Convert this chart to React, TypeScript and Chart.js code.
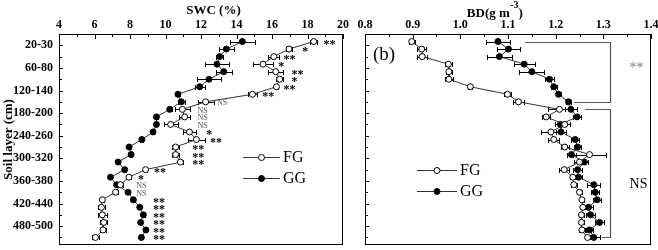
import React, { useEffect, useRef } from "react";
import { Chart, registerables } from "chart.js";

Chart.register(...registerables);

const FONT = '"Liberation Serif", "Times New Roman", serif';

// ---- categories: 27 soil layers (cm), top to bottom ----
const layers = [
  "0-10", "10-20", "20-30", "30-40", "40-60", "60-80", "80-100", "100-120", "120-140",
  "140-160", "160-180", "180-200", "200-220", "220-240", "240-260", "260-280", "280-300",
  "300-320", "320-340", "340-360", "360-380", "380-400", "400-420", "420-440", "440-460",
  "460-480", "480-500",
];

// y-axis tick labels (every other tick is labelled)
const yTickLabels = ["20-30", "60-80", "120-140", "180-200", "240-260", "300-320", "360-380", "420-440", "480-500"];
const yTickValues = Array.from({ length: 18 }, (_, j) => 0.5 + 1.5 * j);

// ---- panel (a): soil water content (%) ----
const swcFG = [18.35, 16.96, 16.1, 15.49, 16.21, 16.43, 16.25, 14.9, 12.26, 10.95, 11.08, 10.29, 11.35, 11.74, 10.57, 10.57, 10.84, 8.88, 7.94, 7.46, 7.19, 6.44, 6.39, 6.44, 6.52, 6.48, 6.05];
const swcFGErr = [0.19, 0.19, 0.3, 0.55, 0.41, 0.19, 0.1, 0.25, 0.45, 0.42, 0.32, 0.4, 0.35, 0.47, 0.19, 0.19, 0.15, 0.1, 0.12, 0.15, 0.12, 0.1, 0.22, 0.25, 0.2, 0.15, 0.2];
const swcGG = [14.33, 13.43, 13.05, 12.9, 13.28, 12.45, 11.93, 10.7, 10.89, 10.24, 9.49, 9.49, 9.3, 8.67, 7.95, 8.06, 7.33, 7.7, 6.9, 7.25, 7.89, 8.19, 8.55, 8.75, 8.6, 8.9, 8.64];
const swcGGErr = [0.7, 0.41, 0.19, 0.66, 0.44, 0.68, 0.28, 0.1, 0.19, 0.1, 0.08, 0.08, 0.08, 0.08, 0.08, 0.08, 0.08, 0.08, 0.08, 0.08, 0.08, 0.08, 0.08, 0.08, 0.08, 0.08, 0.08];
// significance of FG vs GG per layer, and where (in SWC %) each label sits
const swcSig = ["**", "*", "**", "*", "**", "*", "**", "**", "NS", "NS", "NS", "NS", "*", "**", "**", "**", "**", "**", "*", "NS", "NS", "**", "**", "**", "**", "**", "**"];
const swcSigX = [18.9, 17.7, 16.65, 16.35, 17.1, 17.1, 16.65, 15.45, 12.9, 11.8, 11.8, 11.8, 12.3, 12.5, 11.5, 11.5, 11.5, 9.35, 8.45, 8.35, 8.35, 9.3, 9.3, 9.3, 9.3, 9.3, 9.3];

// ---- panel (b): bulk density ----
const bdFG = [0.898, 0.919, 0.92, 0.975, 0.976, 0.976, 1.021, 1.099, 1.122, 1.208, 1.18, 1.219, 1.19, 1.196, 1.219, 1.271, 1.25, 1.218, 1.236, 1.238, 1.25, 1.255, 1.257, 1.254, 1.254, 1.255, 1.267];
const bdFGErr = [0.006, 0.01, 0.01, 0.008, 0.006, 0.008, 0.004, 0.008, 0.012, 0.025, 0.008, 0.012, 0.02, 0.012, 0.008, 0.034, 0.012, 0.01, 0.006, 0.006, 0.005, 0.005, 0.005, 0.005, 0.005, 0.006, 0.006];
const bdGG = [1.079, 1.101, 1.082, 1.134, 1.15, 1.187, 1.196, 1.206, 1.227, 1.232, 1.245, 1.21, 1.211, 1.241, 1.246, 1.233, 1.26, 1.246, 1.248, 1.28, 1.283, 1.287, 1.269, 1.273, 1.292, 1.271, 1.28];
const bdGGErr = [0.026, 0.025, 0.026, 0.022, 0.026, 0.01, 0.006, 0.006, 0.005, 0.012, 0.008, 0.012, 0.01, 0.008, 0.008, 0.01, 0.008, 0.01, 0.008, 0.014, 0.008, 0.008, 0.01, 0.01, 0.01, 0.008, 0.012];
// significance brackets (layer ranges) and their extents in g cm-3
const bdGroups = [
  { from: 0, to: 8, text: "**", topStart: 1.136, bottomStart: 1.238, labelRow: 4 },
  { from: 9, to: 26, text: "NS", topStart: 1.262, bottomStart: 1.297, labelRow: 19.4 },
];
const bdBracketX = 1.315;
const bdBracketLabelX = 1.355;

const LINE = "#333";

function series(label: string, xs: number[], errs: number[], filled: boolean) {
  return {
    label,
    data: xs.map((x, i) => ({ x, y: i, layer: layers[i] })),
    errors: errs,
    showLine: true,
    borderColor: LINE,
    borderWidth: 1,
    pointRadius: 3,
    pointBorderWidth: 1,
    pointBorderColor: "#000",
    pointBackgroundColor: filled ? "#000" : "#fff",
  };
}

const framePlugin = {
  id: "frameTicks",
  beforeDatasetsDraw(chart: any) {
    const { ctx, chartArea: a } = chart;
    ctx.save();
    ctx.strokeStyle = "#000";
    ctx.lineWidth = 1;
    ctx.strokeRect(a.left + 0.5, a.top + 0.5, a.right - a.left - 1, a.bottom - a.top - 1);
    ctx.beginPath();
    const xs = chart.scales.x;
    xs.ticks.forEach((t: any) => {
      const px = Math.round(xs.getPixelForValue(t.value)) + 0.5;
      const major = t.label !== "" && t.label != null;
      ctx.moveTo(px, a.top);
      ctx.lineTo(px, a.top + (major ? 5 : 3));
    });
    const ys = chart.scales.y;
    ys.ticks.forEach((t: any, i: number) => {
      const py = Math.round(ys.getPixelForValue(t.value)) + 0.5;
      ctx.moveTo(a.left, py);
      ctx.lineTo(a.left + (i % 2 === 0 ? 4 : 3), py);
    });
    ctx.stroke();
    ctx.restore();
  },
};

const errorBarPlugin = {
  id: "errorBars",
  beforeDatasetsDraw(chart: any) {
    const { ctx } = chart;
    const xs = chart.scales.x;
    chart.data.datasets.forEach((ds: any, di: number) => {
      const meta = chart.getDatasetMeta(di);
      if (!ds.errors) return;
      ctx.save();
      ctx.strokeStyle = "#000";
      ctx.lineWidth = 1;
      ctx.beginPath();
      meta.data.forEach((pt: any, i: number) => {
        const v = ds.data[i].x;
        const e = ds.errors[i];
        const x0 = Math.round(xs.getPixelForValue(v - e)) + 0.5;
        const x1 = Math.round(xs.getPixelForValue(v + e)) + 0.5;
        const y = Math.round(pt.y) + 0.5;
        ctx.moveTo(x0, y);
        ctx.lineTo(x1, y);
        ctx.moveTo(x0, y - 2.5);
        ctx.lineTo(x0, y + 2.5);
        ctx.moveTo(x1, y - 2.5);
        ctx.lineTo(x1, y + 2.5);
      });
      ctx.stroke();
      ctx.restore();
    });
  },
};

function drawLegend(chart: any, x0: number, x1: number, y0: number, gap: number, size: number) {
  const { ctx } = chart;
  ctx.save();
  chart.data.datasets.forEach((ds: any, i: number) => {
    const y = y0 + i * gap;
    ctx.strokeStyle = ds.borderColor;
    ctx.lineWidth = 1;
    ctx.beginPath();
    ctx.moveTo(x0, Math.round(y) + 0.5);
    ctx.lineTo(x1, Math.round(y) + 0.5);
    ctx.stroke();
    ctx.beginPath();
    ctx.arc((x0 + x1) / 2, Math.round(y) + 0.5, ds.pointRadius, 0, Math.PI * 2);
    ctx.fillStyle = ds.pointBackgroundColor;
    ctx.fill();
    ctx.strokeStyle = ds.pointBorderColor;
    ctx.stroke();
    ctx.fillStyle = "#000";
    ctx.font = `${size}px ${FONT}`;
    ctx.textBaseline = "middle";
    ctx.textAlign = "left";
    ctx.fillText(ds.label, x1 + 3, y + 1);
  });
  ctx.restore();
}

function yScale(withLabels: boolean, width: number) {
  return {
    type: "linear",
    reverse: true,
    min: -1,
    max: 27,
    afterBuildTicks: (s: any) => {
      s.ticks = yTickValues.map((v) => ({ value: v }));
    },
    afterFit: (s: any) => {
      s.width = width;
      s.paddingTop = 0;
      s.paddingBottom = 0;
    },
    ticks: {
      display: withLabels,
      autoSkip: false,
      padding: 6,
      color: "#000",
      font: { family: FONT, size: 12, weight: "bold" },
      callback: (_v: any, i: number) => (i % 2 === 0 ? yTickLabels[i / 2] : ""),
    },
    grid: { display: false, drawTicks: false },
    border: { display: false },
    title: {
      display: withLabels,
      text: "Soil layer (cm)",
      color: "#000",
      padding: { top: 1, bottom: 0 },
      font: { family: FONT, size: 13, weight: "bold" },
    },
  };
}

function xScale(min: number, max: number, step: number, isMajor: (v: number) => boolean, fmt: (v: number) => string) {
  return {
    type: "linear",
    position: "top",
    min,
    max,
    afterFit: (s: any) => {
      s.height = 34;
      s.paddingLeft = 0;
      s.paddingRight = 0;
    },
    ticks: {
      stepSize: step,
      autoSkip: false,
      maxRotation: 0,
      padding: 2,
      color: "#000",
      font: { family: FONT, size: 12, weight: "bold" },
      callback: (v: any) => (isMajor(Number(v)) ? fmt(Number(v)) : ""),
    },
    grid: { display: false, drawTicks: false },
    border: { display: false },
  };
}

function leftConfig(): any {
  const annot = {
    id: "swcAnnot",
    afterDraw(chart: any) {
      const { ctx, chartArea: a } = chart;
      const xs = chart.scales.x;
      const ys = chart.scales.y;
      ctx.save();
      ctx.fillStyle = "#000";
      ctx.font = `bold 13px ${FONT}`;
      ctx.textAlign = "center";
      ctx.textBaseline = "alphabetic";
      ctx.fillText("SWC (%)", a.left + 0.544 * (a.right - a.left), 14);
      ctx.textAlign = "left";
      swcSig.forEach((s, i) => {
        const x = xs.getPixelForValue(swcSigX[i]);
        const y = ys.getPixelForValue(i);
        if (s === "NS") {
          ctx.font = `8px ${FONT}`;
          ctx.fillStyle = "#555";
          ctx.fillText(s, x, y + 3.5);
        } else {
          ctx.font = `bold 12px ${FONT}`;
          ctx.fillStyle = "#000";
          ctx.fillText(s, x, y + 6);
        }
      });
      ctx.restore();
      drawLegend(chart, 243, 280, 156.5, 21.5, 16);
    },
  };
  return {
    type: "scatter",
    data: {
      datasets: [series("FG", swcFG, swcFGErr, false), series("GG", swcGG, swcGGErr, true)],
    },
    options: {
      animation: false,
      responsive: false,
      maintainAspectRatio: false,
      layout: { padding: { left: 0, right: 11, top: 0, bottom: 4 } },
      plugins: { legend: { display: false }, tooltip: { enabled: false } },
      scales: {
        x: xScale(4, 20, 1, (v) => Math.round(v) % 2 === 0, (v) => String(Math.round(v))),
        y: yScale(true, 59),
      },
    },
    plugins: [framePlugin, errorBarPlugin, annot],
  };
}

function rightConfig(): any {
  const annot = {
    id: "bdAnnot",
    afterDraw(chart: any) {
      const { ctx, chartArea: a } = chart;
      const xs = chart.scales.x;
      const ys = chart.scales.y;
      ctx.save();
      // axis title with superscript
      ctx.fillStyle = "#000";
      ctx.textAlign = "left";
      ctx.textBaseline = "alphabetic";
      let tx = a.left + 0.356 * (a.right - a.left);
      ctx.font = `bold 13px ${FONT}`;
      ctx.fillText("BD(g m", tx, 16.5);
      tx += ctx.measureText("BD(g m").width + 0.5;
      ctx.font = `bold 10px ${FONT}`;
      ctx.fillText("-3", tx, 7.5);
      tx += ctx.measureText("-3").width;
      ctx.font = `bold 13px ${FONT}`;
      ctx.fillText(")", tx, 16.5);
      // panel tag
      ctx.font = `19px ${FONT}`;
      ctx.fillText("(b)", a.left + 8, 60);
      // brackets
      ctx.strokeStyle = "#555";
      ctx.lineWidth = 1.2;
      bdGroups.forEach((g) => {
        const yTop = Math.round(ys.getPixelForValue(g.from)) + 0.5;
        const yBot = Math.round(ys.getPixelForValue(g.to)) + 0.5;
        const xb = Math.round(xs.getPixelForValue(bdBracketX)) + 0.5;
        ctx.beginPath();
        ctx.moveTo(xs.getPixelForValue(g.topStart), yTop);
        ctx.lineTo(xb, yTop);
        ctx.lineTo(xb, yBot);
        ctx.lineTo(xs.getPixelForValue(g.bottomStart), yBot);
        ctx.stroke();
        const lx = xs.getPixelForValue(bdBracketLabelX);
        const ly = ys.getPixelForValue(g.labelRow);
        ctx.font = `14px ${FONT}`;
        ctx.fillStyle = g.text === "NS" ? "#000" : "#777";
        ctx.fillText(g.text, lx, ly);
      });
      ctx.restore();
      drawLegend(chart, 63, 103, 170, 20.7, 16);
    },
  };
  return {
    type: "scatter",
    data: {
      datasets: [series("FG", bdFG, bdFGErr, false), series("GG", bdGG, bdGGErr, true)],
    },
    options: {
      animation: false,
      responsive: false,
      maintainAspectRatio: false,
      layout: { padding: { left: 0, right: 7, top: 0, bottom: 4 } },
      plugins: { legend: { display: false }, tooltip: { enabled: false } },
      scales: {
        x: xScale(
          0.8,
          1.4,
          0.05,
          (v) => Math.abs(v * 10 - Math.round(v * 10)) < 1e-6,
          (v) => v.toFixed(1)
        ),
        y: yScale(false, 11),
      },
    },
    plugins: [framePlugin, errorBarPlugin, annot],
  };
}

export default function App() {
  const leftRef = useRef<HTMLCanvasElement>(null);
  const rightRef = useRef<HTMLCanvasElement>(null);
  useEffect(() => {
    const c1 = new Chart(leftRef.current as HTMLCanvasElement, leftConfig());
    const c2 = new Chart(rightRef.current as HTMLCanvasElement, rightConfig());
    return () => {
      c1.destroy();
      c2.destroy();
    };
  }, []);
  return (
    <div style={{ position: "absolute", left: 0, top: 0, width: 658, height: 250, background: "#fff" }}>
      <canvas
        ref={leftRef}
        width={354}
        height={250}
        style={{ position: "absolute", left: 0, top: 0, width: 354, height: 250 }}
      />
      <canvas
        ref={rightRef}
        width={304}
        height={250}
        style={{ position: "absolute", left: 354, top: 0, width: 304, height: 250 }}
      />
    </div>
  );
}
